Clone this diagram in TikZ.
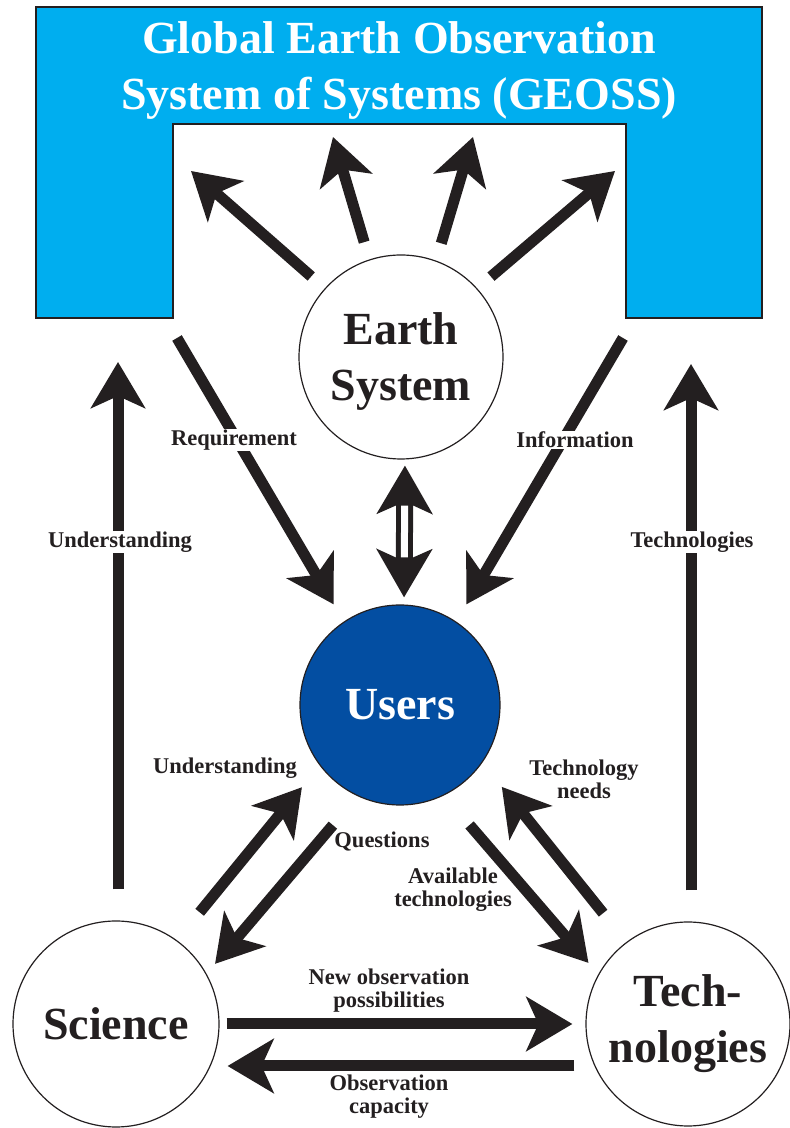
\documentclass[tikz,border=0pt]{standalone}
\usepackage{fontspec}
\setmainfont{Liberation Serif}
\usetikzlibrary{arrows.meta,calc,positioning}
\definecolor{geoblue}{HTML}{00AEEF}
\definecolor{userblue}{HTML}{034EA2}
\definecolor{ink}{HTML}{231F20}

\begin{document}
\begin{tikzpicture}[x=1pt,y=1pt,
  sphere/.style={circle,draw=ink,line width=1.2pt,fill=white,minimum size=#1,inner sep=0pt,align=center,text=ink,font=\bfseries\fontsize{46}{56}\selectfont},
  bigarrow/.style={draw=ink,line width=11pt,-{Stealth[length=46pt,width=54pt,inset=12pt]}},
  lbl/.style={inner sep=1pt,align=center,text=ink,font=\bfseries\fontsize{22.5}{23}\selectfont},
  onlbl/.style={lbl,fill=white}]
\useasboundingbox (0,0) rectangle (790,1128);

% GEOSS frame
\draw[fill=geoblue,draw=ink,line width=1.5pt] (36,1121) -- (762,1121) -- (762,810) -- (626,810)
  -- (626,1004) -- (173,1004) -- (173,810) -- (36,810) -- cycle;
\node[text=white,align=center,font=\bfseries\fontsize{46}{56}\selectfont] (title) at (399,1057)
  {Global Earth Observation\\System of Systems (GEOSS)};

% circles
\node[sphere=204pt,text depth=0pt] (es) at (401,771) {Earth\\System};
\node[sphere=200pt,fill=userblue,text=white] (users) at (400,423) {Users};
\node[sphere=206pt] (sci) at (116,104) {Science};
\node[sphere=204pt] (tech) at (688,104) {Tech-\\nologies};

% earth system -> GEOSS
\coordinate (gA) at (191,957);
\coordinate (gB) at (333,991);
\coordinate (gC) at (473,991);
\coordinate (gD) at (615,957);
\draw[bigarrow,shorten <=18pt] (es.138) -- (gA);
\draw[bigarrow,shorten <=18pt] (es.108) -- (gB);
\draw[bigarrow,shorten <=18pt] (es.70) -- (gC);
\draw[bigarrow,shorten <=18pt] (es.42) -- (gD);

% GEOSS -> users
\coordinate (reqS) at (177,790);
\coordinate (infS) at (623,790);
\draw[bigarrow,shorten >=20pt] (reqS) -- (users.124);
\draw[bigarrow,shorten >=20pt] (infS) -- (users.56);
\node[onlbl] (lreq) at (234,688) {Requirement};
\node[onlbl] (linf) at (575,688) {Information};

% earth system <-> users
\draw[draw=ink,line width=17pt,{Stealth[length=48pt,width=55pt,inset=12pt]}-{Stealth[length=48pt,width=55pt,inset=12pt]},
  shorten <=6pt,shorten >=7pt] ([xshift=4pt]es.south) -- ([xshift=4pt]users.north);
\draw[white,line width=7pt,shorten <=46pt,shorten >=47pt] ([xshift=4pt]es.south) -- ([xshift=4pt]users.north);

% science / technologies -> GEOSS
\coordinate (undTop) at (118,766);
\coordinate (tecTop) at (691,764);
\draw[bigarrow,shorten <=31pt] (undTop |- sci.north) -- (undTop);
\draw[bigarrow,shorten <=31pt] (tecTop |- tech.north) -- (tecTop);
\node[onlbl] (lund) at (120,586) {Understanding};
\node[onlbl] (ltec) at (692,586) {Technologies};

% users <-> science, technologies
\draw[bigarrow,shorten <=36pt,shorten >=28pt] (sci.54) -- (users.217);
\draw[bigarrow,shorten <=38pt,shorten >=13pt] (users.245) -- (sci.29);
\draw[bigarrow,shorten <=39pt,shorten >=15pt] (users.296) -- (tech.151);
\draw[bigarrow,shorten <=37pt,shorten >=31pt] (tech.127) -- (users.325);
\node[lbl] (lund2) at (225,360) {Understanding};
\node[lbl] (lque) at (382,286) {Questions};
\node[lbl] (lava) at (453,238) {Available\\technologies};
\node[lbl] (lneed) at (584,349) {Technology\\needs};

% science <-> technologies
\draw[bigarrow,shorten <=7pt,shorten >=13pt] (sci.east) -- (tech.west);
\draw[bigarrow,shorten <=11pt,shorten >=8pt] ([yshift=-42pt]tech.west) -- ([yshift=-42pt]sci.east);
\node[lbl] (lnew) at (389,137) {New observation\\possibilities};
\node[lbl] (lcap) at (389,31) {Observation\\capacity};
\end{tikzpicture}
\end{document}
